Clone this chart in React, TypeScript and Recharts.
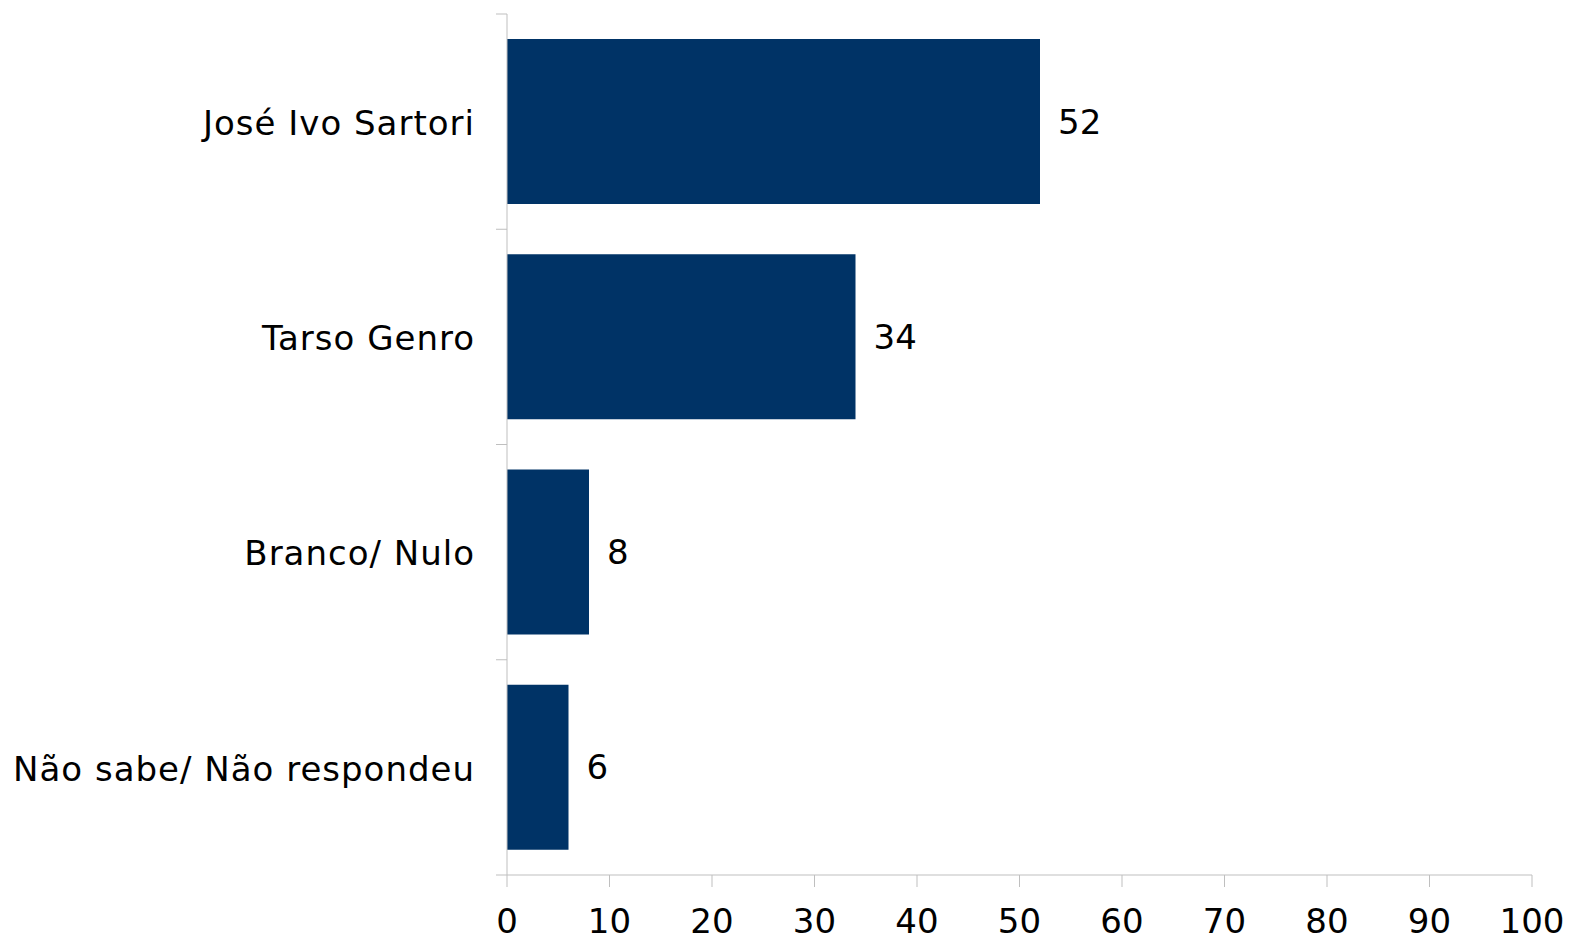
import React from "react";
import { BarChart, Bar, XAxis, YAxis, LabelList } from "recharts";

const candidates = ["José Ivo Sartori", "Tarso Genro", "Branco/ Nulo", "Não sabe/ Não respondeu"];
const percents = [52, 34, 8, 6];
const xTicks = [0, 10, 20, 30, 40, 50, 60, 70, 80, 90, 100];

const chartData = candidates.map((name, i) => ({ name, value: percents[i] }));

const AXIS_GRAY = "#bfbfbf";
const FONT = "'DejaVu Sans', Verdana, sans-serif";
const HALF_BAND = 861 / candidates.length / 2;

// label at band centre, plus a small tick mark at the band boundaries
function CategoryTick(props: any) {
  const { x, y, payload, index } = props;
  const last = index === candidates.length - 1;
  return (
    <g>
      <line x1={x + 24} x2={x + 35} y1={y - HALF_BAND} y2={y - HALF_BAND} stroke={AXIS_GRAY} />
      {last && <line x1={x + 24} x2={x + 35} y1={y + HALF_BAND} y2={y + HALF_BAND} stroke={AXIS_GRAY} />}
      <text
        x={x + 3}
        y={y + 1}
        dy="0.36em"
        textAnchor="end"
        fill="#000"
        style={{ fontSize: 34, fontFamily: FONT, letterSpacing: 1 }}
      >
        {payload.value}
      </text>
    </g>
  );
}

export default function App() {
  return (
    <div style={{ position: "absolute", left: 0, top: 0, background: "#fff" }}>
      <BarChart
        width={1570}
        height={941}
        data={chartData}
        layout="vertical"
        margin={{ top: 14, right: 38, bottom: 0, left: 0 }}
      >
        <XAxis
          type="number"
          domain={[0, 100]}
          ticks={xTicks}
          interval={0}
          tickSize={12}
          tickMargin={22}
          height={66}
          axisLine={{ stroke: AXIS_GRAY }}
          tickLine={{ stroke: AXIS_GRAY }}
          tick={{ fill: "#000", fontSize: 34, fontFamily: FONT }}
        />
        <YAxis
          type="category"
          dataKey="name"
          width={507}
          tickSize={11}
          tickMargin={24}
          tickLine={false}
          axisLine={{ stroke: AXIS_GRAY }}
          tick={<CategoryTick />}
        />
        <Bar dataKey="value" fill="#003366" barSize={165} isAnimationActive={false}>
          <LabelList
            dataKey="value"
            position="right"
            offset={18}
            fill="#000"
            style={{ fontSize: 34, fontFamily: FONT }}
          />
        </Bar>
      </BarChart>
    </div>
  );
}
